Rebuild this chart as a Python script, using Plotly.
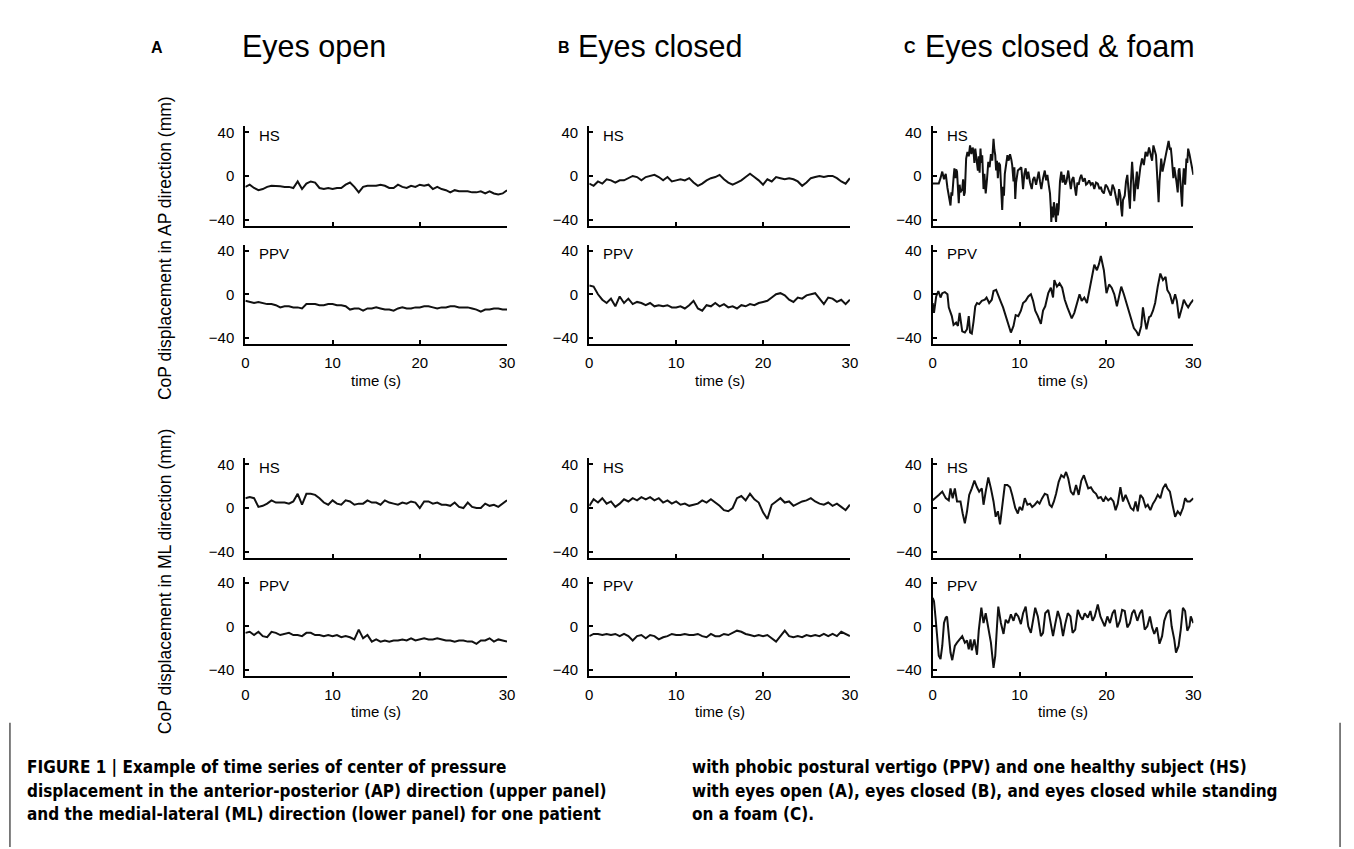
import numpy as np
import plotly.graph_objects as go

W, H = 1354, 849

# ---------------- data (CoP displacement, mm) ----------------
# uniformly sampled series (0..30 s, every 0.5 s) for columns A and B
T_HALF = [i * 0.5 for i in range(61)]

A_AP_HS = [-10, -8, -11, -13, -12, -10, -9, -9, -9.5, -10, -10, -11, -5, -12, -7, -5, -6, -11, -12, -11,
           -12, -11, -11, -8, -6, -10, -15, -10, -9, -9, -9, -8, -9, -11, -11, -8, -10, -11, -9, -10,
           -8, -9, -8, -12, -10, -12, -13, -15, -13, -14, -14, -14, -15, -15, -14, -16, -14, -16, -17, -16, -13]
A_AP_PPV = [-6, -7, -8, -7, -8, -9, -9, -10, -12, -11, -11, -12, -12, -13, -9, -9, -9, -10, -10, -9,
            -9, -10, -10, -11, -14, -13, -13, -15, -13, -13, -12, -13, -14, -14, -15, -13, -12, -13, -13, -12,
            -12, -11, -11, -12, -13, -12, -12, -11, -11, -12, -12, -12, -13, -14, -16, -14, -14, -13, -13, -14, -14]
A_ML_HS = [9, 10, 9, 1, 2, 4, 7, 5, 5, 5, 4, 6, 13, 3, 13, 13, 12, 9, 5, 3,
           7, 4, 3, 7, 6, 3, 4, 4, 7, 5, 5, 3, 7, 5, 4, 3, 5, 4, 6, 5,
           0, 6, 6, 4, 5, 3, 3, 2, 5, 1, 0, 5, 1, 0, 0, 4, 2, 3, 1, 4, 7]
A_ML_PPV = [-6, -5, -8, -5, -9, -10, -5, -6, -8, -7, -6, -8, -8, -9, -6, -6, -8, -8, -9, -8,
            -9, -8, -10, -9, -10, -12, -3, -11, -8, -14, -12, -14, -13, -14, -13, -13, -12, -13, -11, -13,
            -12, -11, -12, -12, -11, -12, -13, -13, -14, -13, -13, -14, -14, -16, -13, -13, -11, -14, -12, -13, -14]

B_AP_HS = [-7, -9, -5, -7, -3, -4, -6, -4, -4, -2, 0, -1, -4, -1, 0, 1, -1, -4, -1, -5,
           -4, -3, -4, -2, -6, -9, -7, -4, -2, -1, 1, -3, -6, -8, -6, -4, -1, 2, -1, -4,
           -8, -3, -5, -1, -2, -3, -2, -3, -5, -9, -6, -2, -1, 0, -1, 0, 0, -2, -5, -7, -2]
B_AP_PPV = [8, 7, 0, -5, -8, -4, -11, -2, -8, -4, -9, -7, -8, -10, -8, -11, -10, -11, -10, -12,
            -12, -11, -13, -10, -6, -13, -15, -10, -11, -8, -11, -9, -12, -11, -13, -10, -11, -9, -10, -8,
            -7, -6, -3, 0, 1, -1, -5, -7, -3, -4, -1, 0, 1, -4, -9, -3, -4, -7, -5, -9, -5]
B_ML_HS = [2, 8, 5, 9, 4, 6, 1, 4, 8, 6, 9, 7, 10, 8, 10, 7, 9, 5, 7, 4,
           6, 3, 4, 2, 3, 4, 7, 5, 8, 5, 2, -2, -3, 0, 9, 11, 7, 13, 8, 5,
           -4, -10, 3, 6, 9, 5, 6, 2, 4, 6, 7, 9, 6, 4, 3, 5, 2, 4, 1, -2, 3]
B_ML_PPV = [-9, -7, -7, -8, -7, -8, -7, -9, -7, -9, -13, -9, -8, -11, -8, -9, -12, -10, -9, -7,
            -8, -8, -7, -8, -8, -7, -9, -10, -7, -9, -9, -7, -8, -6, -4, -5, -7, -8, -9, -8,
            -9, -8, -11, -14, -9, -4, -9, -10, -9, -10, -8, -9, -8, -9, -7, -9, -7, -9, -5, -7, -9]

# column C (eyes closed & foam): (time, value) pairs
C_AP_HS_PTS = [
    (0, -7), (0.5, -7), (0.7, -7), (0.9, -2), (1.1, 4), (1.3, -3), (1.5, 2), (1.7, -11), (1.9, -20), (2.05, -27),
    (2.15, -15), (2.25, -18), (2.4, -2), (2.5, 7), (2.6, -2), (2.7, 6), (2.8, 4), (2.9, -10), (3.0, -25), (3.1, -8),
    (3.2, -15), (3.4, -12), (3.5, -3), (3.6, -18), (3.7, -15), (3.85, 16), (4.0, 22), (4.15, 18), (4.3, 28), (4.45, 20),
    (4.6, 26), (4.7, 22), (4.8, 12), (4.9, 25), (5.05, 15), (5.2, 5), (5.3, 18), (5.4, 3), (5.5, 25), (5.6, 12),
    (5.7, 19), (5.8, -2), (5.85, -12), (5.95, 2), (6.1, -16), (6.25, -3), (6.4, 13), (6.55, 8), (6.7, 20), (6.85, 14),
    (7.0, 34), (7.1, 24), (7.2, 19), (7.3, 5), (7.4, 14), (7.5, -2), (7.6, 12), (7.75, 10), (7.85, -8), (8.0, -31),
    (8.1, -10), (8.2, -18), (8.3, 2), (8.45, 12), (8.6, 19), (8.75, 14), (8.9, 20), (9.05, 15), (9.15, 10), (9.3, -5),
    (9.4, 8), (9.5, -21), (9.6, -6), (9.8, 5), (10.0, 7), (10.2, 8), (10.3, -2), (10.4, -12), (10.55, 2), (10.7, 7),
    (10.85, -3), (11.0, 4), (11.2, -6), (11.4, -12), (11.55, -3), (11.7, -1), (11.9, -8), (12.05, 0), (12.2, 4), (12.35, -5),
    (12.5, -12), (12.7, -2), (12.9, 5), (13.05, -4), (13.2, 1), (13.35, -8), (13.5, -16), (13.6, -30), (13.65, -42), (13.75, -28),
    (13.85, -38), (13.95, -24), (14.05, -35), (14.2, -42), (14.3, -25), (14.4, -36), (14.5, -30), (14.65, -5), (14.8, 4), (14.95, -6),
    (15.1, 1), (15.25, -8), (15.4, -5), (15.6, 5), (15.75, -4), (15.9, -12), (16.05, -3), (16.2, -1), (16.35, -10), (16.5, -18),
    (16.65, -6), (16.8, -8), (16.95, -2), (17.1, 1), (17.3, -5), (17.5, -2), (17.65, -8), (17.8, -7), (18.0, -4), (18.2, -8),
    (18.4, -6), (18.6, -12), (18.8, -6), (19.0, -7), (19.2, -12), (19.35, -10), (19.5, -14), (19.7, -16), (19.9, -8), (20.1, -10),
    (20.3, -14), (20.5, -18), (20.7, -8), (20.9, -12), (21.1, -20), (21.3, -27), (21.45, -12), (21.6, -18), (21.7, -30), (21.8, -37),
    (21.9, -22), (22.1, -18), (22.25, -5), (22.4, 1), (22.55, -15), (22.7, -30), (22.8, -8), (22.95, 13), (23.1, -5), (23.2, -23),
    (23.35, -8), (23.5, 4), (23.6, -12), (23.7, -5), (23.9, 8), (24.1, 16), (24.3, 10), (24.5, 22), (24.7, 18), (24.9, 26),
    (25.1, 20), (25.25, 14), (25.4, 28), (25.55, 22), (25.7, 19), (25.8, 5), (25.9, -10), (26.0, -24), (26.1, -5), (26.2, 8),
    (26.3, 16), (26.45, 4), (26.6, 10), (26.75, 18), (26.9, 22), (27.05, 28), (27.15, 32), (27.3, 24), (27.4, 26), (27.5, 18),
    (27.6, 10), (27.7, -2), (27.8, 8), (27.9, 4), (28.05, -5), (28.2, -15), (28.3, 5), (28.4, 7), (28.55, -12), (28.7, -28),
    (28.8, -5), (28.9, 7), (29.05, -8), (29.2, 16), (29.3, 12), (29.4, 25), (29.55, 20), (29.7, 14), (29.85, 6), (30.0, 1),
]

C_AP_PPV_T = [0, 0.15, 0.4, 0.65, 0.9, 1.1, 1.4, 1.7, 1.85, 2.2, 2.4, 2.7, 2.9, 3.1, 3.4, 3.7, 3.95, 4.15, 4.3, 4.5,
              4.7, 4.9, 5.1, 5.35, 5.65, 6.0, 6.2, 6.5, 6.8, 7.0, 7.3, 7.6, 7.9, 8.1, 8.4, 8.7, 9.0, 9.3, 9.55, 9.85,
              10.15, 10.4, 10.7, 11.0, 11.3, 11.55, 11.8, 12.1, 12.45, 12.7, 12.95, 13.3, 13.6, 13.85, 14.0, 14.3, 14.6, 14.9, 15.2, 15.5,
              15.75, 16.0, 16.3, 16.6, 16.9, 17.15, 17.45, 17.75, 18.0, 18.3, 18.6, 18.9, 19.15, 19.35, 19.5, 19.7, 20.0, 20.3, 20.6, 20.9,
              21.2, 21.45, 21.7, 22.0, 22.3, 22.6, 22.85, 23.15, 23.45, 23.7, 24.0, 24.2, 24.4, 24.6, 24.9, 25.1, 25.35, 25.6, 25.9, 26.2,
              26.5, 26.8, 27.0, 27.3, 27.6, 27.9, 28.1, 28.35, 28.7, 28.9, 29.15, 29.4, 29.7, 30.0]
C_AP_PPV = [-8, -17, -2, 3, -3, 1, 2, 0, -12, -20, -28, -26, -29, -17, -34, -35, -32, -20, -35, -36,
            -25, -11, -8, -9, -6, -5, -3, -8, -5, 3, 4, -3, -8, -12, -20, -29, -35, -29, -19, -20,
            -15, -8, -6, -2, 0, -6, -15, -20, -27, -15, -11, 1, 6, -3, 13, 7, 10, 6, -5, -12,
            -17, -22, -17, -8, 0, -6, -3, -8, 3, 13, 27, 22, 28, 35, 28, 22, 1, 9, 6, 0,
            -11, -2, 7, 0, -8, -15, -23, -31, -34, -38, -29, -12, -23, -32, -21, -20, -15, -8, 7, 19,
            13, 16, 4, 0, -9, 0, -6, -22, -12, -5, -9, -12, -8, -5]

C_ML_HS_T = [0, 0.35, 0.7, 1.1, 1.5, 1.85, 2.05, 2.3, 2.55, 2.8, 3.2, 3.45, 3.7, 3.95, 4.2, 4.5, 4.8, 5.1, 5.35, 5.65,
             5.85, 6.1, 6.4, 6.7, 7.0, 7.25, 7.5, 7.75, 8.0, 8.3, 8.6, 8.9, 9.15, 9.5, 9.8, 10.0, 10.3, 10.6, 10.9, 11.2,
             11.45, 11.75, 12.05, 12.3, 12.6, 12.9, 13.2, 13.45, 13.7, 13.95, 14.2, 14.5, 14.8, 15.1, 15.35, 15.6, 15.9, 16.2, 16.5, 16.8,
             17.1, 17.4, 17.6, 17.9, 18.2, 18.5, 18.8, 19.05, 19.35, 19.65, 19.9, 20.2, 20.5, 20.8, 21.05, 21.3, 21.6, 21.9, 22.2, 22.5,
             22.8, 23.1, 23.35, 23.6, 23.9, 24.2, 24.5, 24.75, 25.05, 25.35, 25.6, 25.9, 26.2, 26.5, 26.8, 27.0, 27.3, 27.6, 27.9, 28.2,
             28.5, 28.8, 29.05, 29.3, 29.6, 30.0]
C_ML_HS = [7, 10, 12, 15, 9, 7, 18, 9, 18, 6, 6, -5, -14, -3, 12, 18, 25, 19, 15, 18,
           3, 15, 28, 18, 6, -8, -3, -15, 3, 21, 21, 19, 12, 0, -5, 1, -2, 9, 3, 4,
           1, 3, 6, 4, 9, 13, 12, 3, 1, 6, 13, 24, 30, 28, 33, 27, 15, 12, 21, 12,
           25, 30, 25, 18, 19, 15, 13, 9, 10, 6, 10, 7, 9, 6, -2, 4, 19, 6, 12, 6,
           0, -2, 6, -3, 12, 9, 1, 3, -2, 4, 7, 12, 9, 18, 22, 18, 15, 3, -8, -3,
           -6, 0, 9, 6, 6, 9]

C_ML_PPV_T = [0, 0.15, 0.35, 0.5, 0.7, 0.9, 1.1, 1.3, 1.5, 1.65, 1.85, 2.05, 2.25, 2.55, 2.8, 3.1, 3.4, 3.7, 3.95, 4.15,
              4.35, 4.5, 4.8, 5.1, 5.3, 5.6, 5.85, 6.1, 6.4, 6.7, 7.0, 7.2, 7.4, 7.55, 7.85, 8.15, 8.4, 8.7, 9.0, 9.3,
              9.55, 9.85, 10.15, 10.4, 10.7, 11.0, 11.3, 11.55, 11.8, 12.1, 12.45, 12.7, 12.95, 13.3, 13.6, 13.85, 14.1, 14.4, 14.7, 15.0,
              15.25, 15.55, 15.85, 16.1, 16.4, 16.7, 17.0, 17.25, 17.5, 17.85, 18.15, 18.4, 18.65, 19.0, 19.3, 19.55, 19.8, 20.1, 20.4, 20.7,
              20.95, 21.25, 21.55, 21.8, 22.1, 22.4, 22.7, 22.95, 23.2, 23.55, 23.85, 24.1, 24.4, 24.7, 25.0, 25.25, 25.5, 25.8, 26.1, 26.4,
              26.65, 26.95, 27.3, 27.5, 27.8, 28.0, 28.3, 28.55, 28.8, 29.05, 29.3, 29.55, 29.7, 30.0]
C_ML_PPV = [26, 23, 6, -9, -27, -30, -18, 3, 8, 9, -6, -24, -31, -18, -15, -12, -9, -15, -13, -21,
            -12, -22, -12, -26, -4, 17, 3, 12, -3, -15, -38, -27, 0, 18, 3, -7, 6, 3, 11, 5,
            12, 9, 2, 12, 18, 0, -6, 6, 17, 9, -9, -6, 12, 15, 3, -9, 2, 14, 6, -9,
            2, 12, 9, -6, -3, 15, 9, 6, 12, 8, 14, 5, 9, 20, 9, 5, 0, 9, 3, 12,
            15, -1, 5, 15, 14, -1, 3, 12, 15, 5, 12, 15, -3, 0, 9, -1, -7, -1, -16, -9,
            5, 12, 15, 0, -12, -24, -18, -3, 17, 14, -4, 0, 9, 3]

C_AP_HS_T = [p[0] for p in C_AP_HS_PTS]
C_AP_HS = [p[1] for p in C_AP_HS_PTS]

COLUMN_TITLES = ["Eyes open", "Eyes closed", "Eyes closed & foam"]
COLUMN_LETTERS = ["A", "B", "C"]
SUBJECTS = ["HS", "PPV"]
Y_TICKS = [-40, 0, 40]
Y_TICK_TEXT = ["\u221240", "0", "40"]
X_TICKS = [0, 10, 20, 30]
Y_TITLES = ["CoP displacement in AP direction (mm)", "CoP displacement in ML direction (mm)"]
X_TITLE = "time (s)"
CAPTION_LEFT = ["FIGURE 1 | Example of time series of center of pressure",
                "displacement in the anterior-posterior (AP) direction (upper panel)",
                "and the medial-lateral (ML) direction (lower panel) for one patient"]
CAPTION_RIGHT = ["with phobic postural vertigo (PPV) and one healthy subject (HS)",
                 "with eyes open (A), eyes closed (B), and eyes closed while standing",
                 "on a foam (C)."]

# panels: (column index, row index, times, values)
PANELS = [
    (0, 0, T_HALF, A_AP_HS), (0, 1, T_HALF, A_AP_PPV), (0, 2, T_HALF, A_ML_HS), (0, 3, T_HALF, A_ML_PPV),
    (1, 0, T_HALF, B_AP_HS), (1, 1, T_HALF, B_AP_PPV), (1, 2, T_HALF, B_ML_HS), (1, 3, T_HALF, B_ML_PPV),
    (2, 0, C_AP_HS_T, C_AP_HS), (2, 1, C_AP_PPV_T, C_AP_PPV), (2, 2, C_ML_HS_T, C_ML_HS), (2, 3, C_ML_PPV_T, C_ML_PPV),
]
for _c, _r, _t, _v in PANELS:
    assert len(_t) == len(_v), (_c, _r, len(_t), len(_v))

# ---------------- layout geometry (pixels) ----------------
COL_PX = [(243.5, 507.5), (590.5, 853.5), (937.0, 1200.0)]
ROW_PX = [(124, 224), (243, 343), (458, 558), (577, 677)]
TITLE_X = [240, 579, 929]
LETTER_X = [146, 557, 906]

FONT = "Liberation Sans, Arial, Helvetica, sans-serif"
CAP_FONT = "Liberation Sans Narrow, Arial Narrow, DejaVu Sans Condensed, sans-serif"


def fx(p):
    return p / W


def fy(p):
    return 1 - p / H


fig = go.Figure()
layout = {}
annotations = []

for i, (c, r, t, v) in enumerate(PANELS, start=1):
    xa = "x" if i == 1 else f"x{i}"
    ya = "y" if i == 1 else f"y{i}"
    fig.add_trace(go.Scatter(x=t, y=v, mode="lines", xaxis=xa, yaxis=ya,
                             line=dict(color="#111111", width=2), showlegend=False,
                             hoverinfo="skip"))
    x0, x1 = COL_PX[c]
    y0, y1 = ROW_PX[r]
    bottom = (r % 2 == 1)
    layout["xaxis" if i == 1 else f"xaxis{i}"] = dict(
        domain=[fx(x0), fx(x1)], anchor=ya, range=[0, 30],
        tickvals=X_TICKS, ticktext=[str(k) for k in X_TICKS],
        showticklabels=bottom, ticks="inside", ticklen=4, tickwidth=1.5, tickcolor="black",
        showline=True, linecolor="black", linewidth=2, mirror=False,
        showgrid=False, zeroline=False, fixedrange=True,
        tickfont=dict(family=FONT, size=15, color="black"), ticklabelstandoff=4,
    )
    layout["yaxis" if i == 1 else f"yaxis{i}"] = dict(
        domain=[fy(y1), fy(y0)], anchor=xa, range=[-45.5, 45.5],
        tickvals=Y_TICKS, ticktext=Y_TICK_TEXT,
        ticks="inside", ticklen=4, tickwidth=1.5, tickcolor="black",
        showline=True, linecolor="black", linewidth=2.2, mirror=False,
        showgrid=False, zeroline=False, fixedrange=True,
        tickfont=dict(family=FONT, size=15, color="black"), ticklabelstandoff=6,
    )
    annotations.append(dict(x=fx(x0 + 12), y=fy(y0 + 9), xref="paper", yref="paper",
                            text=SUBJECTS[r % 2], showarrow=False, xanchor="left", yanchor="middle",
                            font=dict(family=FONT, size=15, color="black")))

for c in range(3):
    x0, x1 = COL_PX[c]
    annotations.append(dict(x=fx(TITLE_X[c] - 2), y=fy(44), xref="paper", yref="paper",
                            text=COLUMN_TITLES[c], showarrow=False, xanchor="left", yanchor="middle",
                            font=dict(family=FONT, size=30.5, color="black")))
    annotations.append(dict(x=fx(LETTER_X[c]), y=fy(45), xref="paper", yref="paper",
                            text=f"<b>{COLUMN_LETTERS[c]}</b>", showarrow=False, xanchor="left",
                            yanchor="middle", font=dict(family=FONT, size=16, color="black")))
    for yp in (380, 713):
        annotations.append(dict(x=fx((x0 + x1) / 2), y=fy(yp), xref="paper", yref="paper",
                                text=X_TITLE, showarrow=False, xanchor="center", yanchor="middle",
                                font=dict(family=FONT, size=15, color="black")))

for k, yc in enumerate((247, 582)):
    annotations.append(dict(x=fx(162), y=fy(yc), xref="paper", yref="paper", text=Y_TITLES[k],
                            showarrow=False, textangle=-90, xanchor="center", yanchor="middle",
                            font=dict(family=FONT, size=17.5, color="black")))

for j, (l, rtxt) in enumerate(zip(CAPTION_LEFT, CAPTION_RIGHT)):
    yp = 769 + 23.5 * j
    annotations.append(dict(x=fx(21), y=fy(yp), xref="paper", yref="paper", text=f"<b>{l}</b>",
                            showarrow=False, xanchor="left", yanchor="middle",
                            font=dict(family=CAP_FONT, size=17, color="black")))
    annotations.append(dict(x=fx(692), y=fy(yp), xref="paper", yref="paper", text=f"<b>{rtxt}</b>",
                            showarrow=False, xanchor="left", yanchor="middle",
                            font=dict(family=CAP_FONT, size=17, color="black")))

shapes = [
    dict(type="line", xref="paper", yref="paper", x0=fx(6), x1=fx(6), y0=fy(724), y1=fy(849),
         line=dict(color="#555555", width=1.5)),
    dict(type="line", xref="paper", yref="paper", x0=fx(1348), x1=fx(1348), y0=fy(724), y1=fy(849),
         line=dict(color="#555555", width=1.5)),
]

fig.update_layout(width=W, height=H, margin=dict(l=0, r=0, t=0, b=0),
                  paper_bgcolor="white", plot_bgcolor="white",
                  annotations=annotations, shapes=shapes, **layout)

fig.write_html("out.html", config={"displayModeBar": False})
